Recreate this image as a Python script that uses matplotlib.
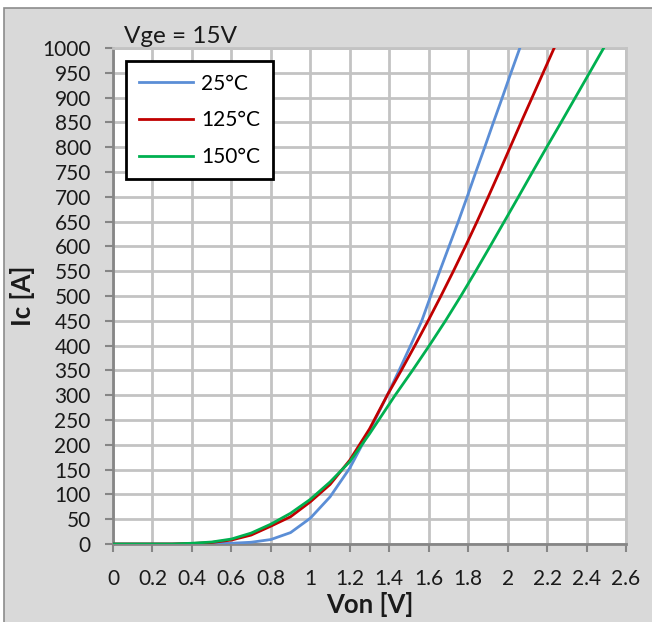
import matplotlib
matplotlib.use("Agg")
import matplotlib.pyplot as plt
from matplotlib.patches import Rectangle

# ---- data ----
v_25 = [0, 0.3, 0.4, 0.5, 0.6, 0.7, 0.8, 0.9, 1.0, 1.1, 1.2, 1.3, 1.39, 1.45, 1.508,
        1.565, 1.61, 1.656, 1.703, 1.75, 1.795, 1.839, 1.884, 1.928, 1.973, 2.017, 2.062]
i_25 = [0, 0, 0.3, 0.8, 1.5, 3.5, 9, 23, 52, 95, 153, 228, 300, 350, 400,
        450, 500, 550, 600, 650, 700, 750, 800, 850, 900, 950, 1000]

v_125 = [0, 0.3, 0.4, 0.5, 0.6, 0.7, 0.8, 0.9, 1.0, 1.1, 1.2, 1.3, 1.39, 1.461, 1.53,
         1.597, 1.662, 1.725, 1.786, 1.845, 1.902, 1.958, 2.013, 2.068, 2.124, 2.18, 2.236]
i_125 = [0, 0, 1, 3, 8, 18, 36, 55, 85, 120, 169, 232, 300, 350, 400,
         450, 500, 550, 600, 650, 700, 750, 800, 850, 900, 950, 1000]

v_150 = [0, 0.3, 0.4, 0.5, 0.6, 0.7, 0.8, 0.9, 1.0, 1.1, 1.2, 1.3, 1.43, 1.518, 1.603,
         1.685, 1.763, 1.838, 1.911, 1.983, 2.055, 2.126, 2.198, 2.271, 2.343, 2.415, 2.487]
i_150 = [0, 0, 1.5, 4, 10, 22, 40, 62, 90, 125, 166, 222, 300, 350, 400,
         450, 500, 550, 600, 650, 700, 750, 800, 850, 900, 950, 1000]

series_labels = ["25°C", "125°C", "150°C"]
series_colors = ["#5b8ed6", "#c00000", "#00b050"]
x_ticks = [0, 0.2, 0.4, 0.6, 0.8, 1, 1.2, 1.4, 1.6, 1.8, 2, 2.2, 2.4, 2.6]
x_ticklabels = ["0", "0.2", "0.4", "0.6", "0.8", "1", "1.2", "1.4", "1.6", "1.8", "2", "2.2", "2.4", "2.6"]
y_ticks = list(range(0, 1001, 50))

plt.rcParams['font.family'] = ['Lato', 'DejaVu Sans']

W, H = 652, 622
fig = plt.figure(figsize=(W / 100, H / 100), dpi=100)
fig.patch.set_facecolor("white")
fig.patches.append(Rectangle((4 / W, -0.01), 1.02, 1 - 8 / H + 0.01, transform=fig.transFigure,
                             facecolor="#d9d9d9", edgecolor="#8c8c8c", linewidth=1.2, zorder=-10))

ax = fig.add_axes([113 / W, 1 - 544 / H, (626 - 113) / W, (544 - 48) / H])
ax.set_facecolor("white")

for v, i, lab, col in zip([v_25, v_125, v_150], [i_25, i_125, i_150], series_labels, series_colors):
    ax.plot(v, i, color=col, linewidth=2.0, label=lab, zorder=3)

ax.set_xlim(0, 2.6)
ax.set_ylim(0, 1000)
ax.set_xticks(x_ticks)
ax.set_xticklabels(x_ticklabels)
ax.set_yticks(y_ticks)
ax.set_yticklabels([str(t) for t in y_ticks])
ax.grid(True, color="#c3c3c3", linewidth=2.0, zorder=0)
ax.set_axisbelow(True)

for s in ["top", "right"]:
    ax.spines[s].set_color("#c3c3c3")
    ax.spines[s].set_linewidth(2.0)
for s in ["left", "bottom"]:
    ax.spines[s].set_color("#868686")
    ax.spines[s].set_linewidth(2.0)
ax.tick_params(axis="both", direction="out", length=6, width=1.5, color="#868686",
               labelsize=15, labelcolor="#1a1a1a")
ax.tick_params(axis="y", pad=10)
ax.tick_params(axis="x", pad=12)

ax.set_xlabel("Von [V]", fontsize=18.5, fontweight="bold", color="#1a1a1a", labelpad=2)
ax.set_ylabel("Ic [A]", fontsize=18.5, fontweight="bold", color="#1a1a1a", labelpad=5)

fig.text(124 / W, 1 - 43 / H, "Vge = 15V", fontsize=17.5, color="#1a1a1a", ha="left", va="baseline")

leg = ax.legend(loc="upper left", bbox_to_anchor=((126 - 113) / (626 - 113), 1 - (61 - 48) / (544 - 48)),
                fontsize=15, frameon=True, fancybox=False, edgecolor="black",
                borderpad=0.6, labelspacing=0.8, handlelength=2.6, handletextpad=0.4,
                borderaxespad=0)
leg.get_frame().set_linewidth(2.0)
leg.get_frame().set_facecolor("white")
leg.get_frame().set_alpha(1)

fig.savefig("out.png", dpi=100, facecolor=fig.get_facecolor())
